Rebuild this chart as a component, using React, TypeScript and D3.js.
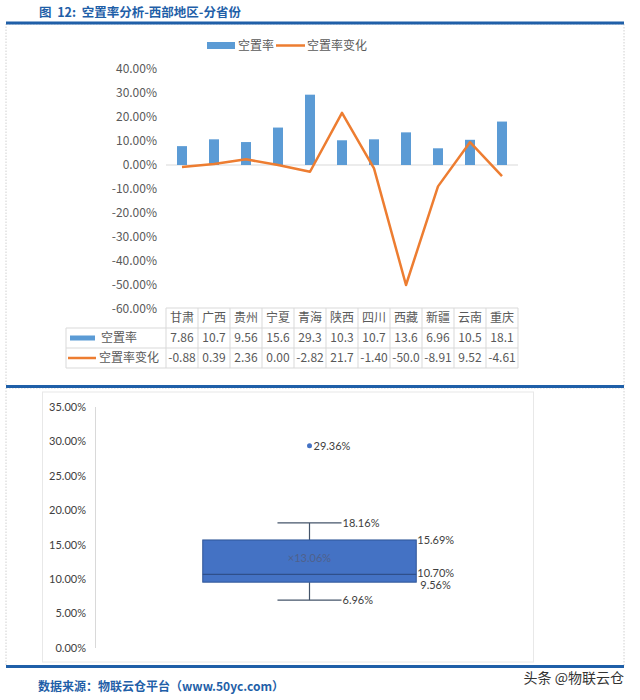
import React from 'react';
import * as d3 from 'd3';

const categories = ['甘肃', '广西', '贵州', '宁夏', '青海', '陕西', '四川', '西藏', '新疆', '云南', '重庆'];
const vacancy = [7.86, 10.7, 9.56, 15.6, 29.3, 10.3, 10.7, 13.6, 6.96, 10.5, 18.1];
const vacancyChange = [-0.88, 0.39, 2.36, 0.0, -2.82, 21.7, -1.4, -50.0, -8.91, 9.52, -4.61];
const vacancyText = ['7.86', '10.7', '9.56', '15.6', '29.3', '10.3', '10.7', '13.6', '6.96', '10.5', '18.1'];
const changeText = ['-0.88', '0.39', '2.36', '0.00', '-2.82', '21.7', '-1.40', '-50.0', '-8.91', '9.52', '-4.61'];
const topTicks = [40, 30, 20, 10, 0, -10, -20, -30, -40, -50, -60];
const boxTicks = [35, 30, 25, 20, 15, 10, 5, 0];
const boxCategory = ['西部'];
// whisker low, Q1, median, Q3, whisker high
const boxValues = [6.96, 9.56, 10.7, 15.69, 18.16];
const boxMean = [13.06];
const boxOutliers = [29.36];

const CN = '"Noto Sans CJK SC", "Noto Sans", sans-serif';
const LAT = 'Lato, "Noto Sans", sans-serif';
const BLUE = '#5B9BD5';
const ORANGE = '#ED7D31';
const TXT = '#595959';
const GRID = '#d9d9d9';
const FRAME = '#1f5fa8';

export default function App() {
  const x = d3.scaleBand<string>().domain(categories).range([166, 518]);
  const y = d3.scaleLinear().domain([-60, 40]).range([309, 69]);
  const bw = x.bandwidth();
  const barW = 10;
  const line = d3
    .line<number>()
    .x((_, i) => (x(categories[i]) as number) + bw / 2)
    .y((d) => y(d));

  const fmt = (v: number) => v.toFixed(2) + '%';

  // table
  const rowTop = 308;
  const rowH = 20;
  const tableLeft = 66;

  // box chart
  const bx = d3.scaleBand<string>().domain(boxCategory).range([96, 523]).paddingInner(0).paddingOuter(0.5);
  const by = d3.scaleLinear().domain([0, 35]).range([648, 407]);
  const bx0 = bx(boxCategory[0]) as number;
  const bbw = bx.bandwidth();
  const cx = bx0 + bbw / 2;
  const capHalf = bbw * 0.15;
  const [wLo, q1, med, q3, wHi] = boxValues;

  return (
    <svg width={640} height={700} style={{ position: 'absolute', left: 0, top: 0, background: '#fff' }}>
      <rect x={0} y={0} width={640} height={700} fill="#fff" />
      {/* title */}
      <text x={39} y={17} fontFamily={CN} fontSize={12.5} fontWeight={700} fill={FRAME} style={{ whiteSpace: 'pre' }}>
        {'图  12:  空置率分析-西部地区-分省份'}
      </text>
      {/* frames */}
      <rect x={6} y={24} width={618} height={362} fill="none" stroke="#d0d0d0" strokeDasharray="1.5 1.5" />
      <rect x={6} y={388} width={618} height={278} fill="none" stroke="#d0d0d0" strokeDasharray="1.5 1.5" />
      <line x1={6} x2={624} y1={23} y2={23} stroke={FRAME} strokeWidth={3} />
      <line x1={6} x2={624} y1={386.5} y2={386.5} stroke={FRAME} strokeWidth={3} />
      <line x1={6} x2={624} y1={666.5} y2={666.5} stroke={FRAME} strokeWidth={3} />

      {/* legend */}
      <rect x={207} y={42} width={28} height={7} fill={BLUE} />
      <text x={238} y={50} fontFamily={CN} fontSize={12} fill={TXT}>空置率</text>
      <line x1={276} x2={305} y1={45.5} y2={45.5} stroke={ORANGE} strokeWidth={2.5} />
      <text x={307} y={50} fontFamily={CN} fontSize={12} fill={TXT}>空置率变化</text>

      {/* y axis labels */}
      {topTicks.map((t) => (
        <text key={t} x={157} y={y(t)} dy="0.35em" textAnchor="end" fontFamily={CN} fontSize={12} fill={TXT}>
          {fmt(t)}
        </text>
      ))}
      {/* zero line */}
      <line x1={166} x2={518} y1={y(0)} y2={y(0)} stroke={GRID} strokeWidth={1} />
      {/* bars */}
      {categories.map((c, i) => (
        <rect
          key={c}
          x={(x(c) as number) + bw / 2 - barW / 2}
          y={y(Math.max(0, vacancy[i]))}
          width={barW}
          height={Math.abs(y(vacancy[i]) - y(0))}
          fill={BLUE}
        />
      ))}
      <path d={line(vacancyChange) as string} fill="none" stroke={ORANGE} strokeWidth={2.5} strokeLinejoin="round" />

      {/* data table */}
      <g stroke={GRID} strokeWidth={1} fill="none">
        <line x1={166} x2={518} y1={rowTop} y2={rowTop} />
        <line x1={tableLeft} x2={518} y1={rowTop + rowH} y2={rowTop + rowH} />
        <line x1={tableLeft} x2={518} y1={rowTop + rowH * 2} y2={rowTop + rowH * 2} />
        <line x1={tableLeft} x2={518} y1={rowTop + rowH * 3} y2={rowTop + rowH * 3} />
        <line x1={tableLeft} x2={tableLeft} y1={rowTop + rowH} y2={rowTop + rowH * 3} />
        {categories.map((c) => (
          <line key={c} x1={x(c) as number} x2={x(c) as number} y1={rowTop} y2={rowTop + rowH * 3} />
        ))}
        <line x1={518} x2={518} y1={rowTop} y2={rowTop + rowH * 3} />
      </g>
      {categories.map((c, i) => (
        <g key={c} fontFamily={CN} fontSize={12} fill={TXT} textAnchor="middle">
          <text x={(x(c) as number) + bw / 2} y={rowTop + rowH / 2} dy="0.36em">{c}</text>
          <text x={(x(c) as number) + bw / 2} y={rowTop + rowH * 1.5} dy="0.36em">{vacancyText[i]}</text>
          <text x={(x(c) as number) + bw / 2} y={rowTop + rowH * 2.5} dy="0.36em">{changeText[i]}</text>
        </g>
      ))}
      <rect x={70} y={rowTop + rowH * 1.5 - 2.5} width={25} height={5} fill={BLUE} />
      <text x={101} y={rowTop + rowH * 1.5} dy="0.36em" fontFamily={CN} fontSize={12} fill={TXT}>空置率</text>
      <line x1={68} x2={96} y1={rowTop + rowH * 2.5} y2={rowTop + rowH * 2.5} stroke={ORANGE} strokeWidth={2.5} />
      <text x={99} y={rowTop + rowH * 2.5} dy="0.36em" fontFamily={CN} fontSize={12} fill={TXT}>空置率变化</text>

      {/* box chart */}
      <rect x={42.5} y={392} width={491} height={270} fill="none" stroke="#e8e8e8" />
      <line x1={95.5} x2={95.5} y1={by(35)} y2={by(0)} stroke="#d9d9d9" />
      {boxTicks.map((t) => (
        <text key={t} x={86} y={by(t)} dy="0.35em" textAnchor="end" fontFamily={LAT} fontSize={11} fill="#404040">
          {fmt(t)}
        </text>
      ))}
      <g stroke="#44546A" strokeWidth={1.2}>
        <line x1={cx} x2={cx} y1={by(wHi)} y2={by(q3)} />
        <line x1={cx} x2={cx} y1={by(q1)} y2={by(wLo)} />
        <line x1={cx - capHalf} x2={cx + capHalf} y1={by(wHi)} y2={by(wHi)} />
        <line x1={cx - capHalf} x2={cx + capHalf} y1={by(wLo)} y2={by(wLo)} />
      </g>
      <rect x={bx0} y={by(q3)} width={bbw} height={by(q1) - by(q3)} fill="#4472C4" stroke="#2F5597" strokeWidth={1} />
      <line x1={bx0} x2={bx0 + bbw} y1={by(med)} y2={by(med)} stroke="#2F4F8A" strokeWidth={1.2} />
      {boxOutliers.map((o) => (
        <g key={o}>
          <circle cx={cx} cy={by(o)} r={2.5} fill="#4472C4" />
          <text x={cx + 4} y={by(o)} dy="0.35em" fontFamily={LAT} fontSize={11} fill="#404040">{fmt(o)}</text>
        </g>
      ))}
      {boxMean.map((m) => (
        <text key={m} x={cx} y={by(m)} dy="0.35em" textAnchor="middle" fontFamily={LAT} fontSize={11} fill="#4f618c">
          ×{fmt(m)}
        </text>
      ))}
      <g fontFamily={LAT} fontSize={11} fill="#404040">
        <text x={cx + capHalf + 1} y={by(wHi)} dy="0.35em">{fmt(wHi)}</text>
        <text x={cx + capHalf + 1} y={by(wLo)} dy="0.35em">{fmt(wLo)}</text>
        <text x={bx0 + bbw + 1} y={by(q3)} dy="0.35em">{fmt(q3)}</text>
        <text x={bx0 + bbw + 1} y={by(med) - 1} dy="0.35em">{fmt(med)}</text>
        <text x={bx0 + bbw + 4} y={by(q1) + 3} dy="0.35em">{fmt(q1)}</text>
      </g>

      {/* footer */}
      <text x={38} y={691} fontFamily={CN} fontSize={12} fontWeight={700} fill={FRAME}>
        数据来源：物联云仓平台（www.50yc.com）
      </text>
      <text x={624} y={683} textAnchor="end" fontFamily={CN} fontSize={14} fill="#333">
        头条 @物联云仓
      </text>
    </svg>
  );
}
